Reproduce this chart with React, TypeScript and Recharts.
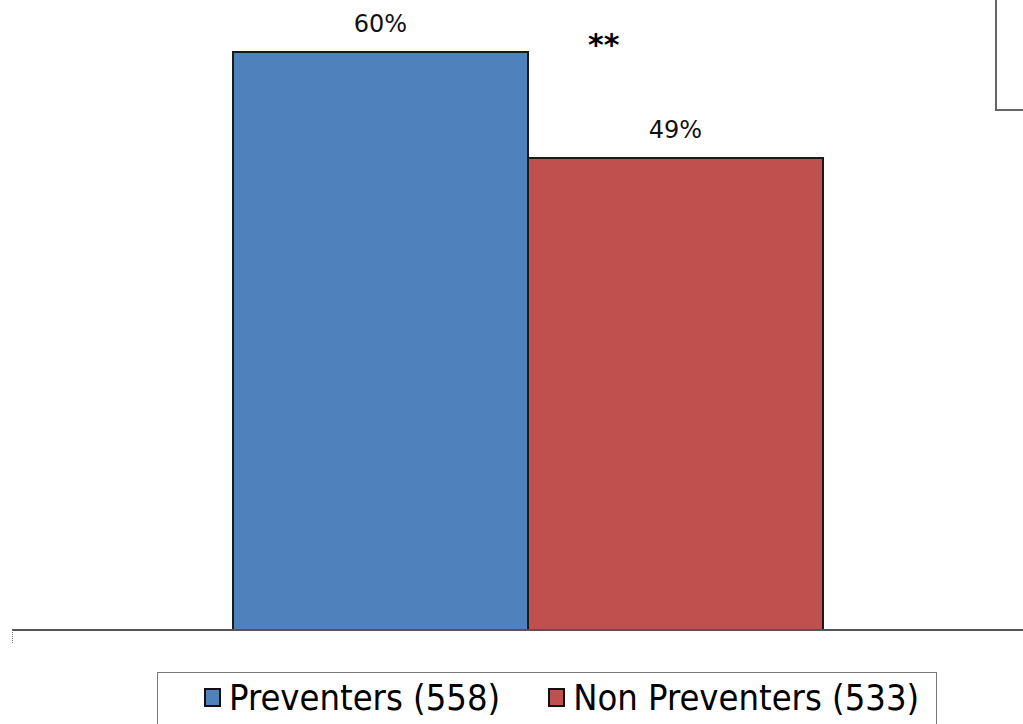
import React from "react";
import { BarChart, Bar, XAxis, YAxis, LabelList } from "recharts";

const categories = ["Group"];
const seriesNames = ["Preventers (558)", "Non Preventers (533)"];
const seriesKeys = ["preventers", "nonPreventers"];
const seriesValues = [60, 49];
const seriesColors = ["#4F81BD", "#C0504D"];
const significance = "**";

const data = categories.map((c) => ({
  name: c,
  [seriesKeys[0]]: seriesValues[0],
  [seriesKeys[1]]: seriesValues[1],
}));

const fmt = (v: any) => `${v}%`;

const LegendBox = () => (
  <div
    style={{
      position: "absolute",
      left: 157,
      top: 672,
      width: 780,
      height: 60,
      border: "1px solid #777",
      boxSizing: "border-box",
      background: "#fff",
    }}
  >
    <div
      style={{
        position: "absolute",
        left: 46,
        top: 4,
        display: "flex",
        alignItems: "center",
        whiteSpace: "nowrap",
        fontFamily: "'DejaVu Sans Condensed', 'DejaVu Sans', sans-serif",
        fontSize: 36,
        color: "#000",
      }}
    >
      {seriesNames.map((n, i) => (
        <span key={n} style={{ display: "inline-flex", alignItems: "center", marginRight: i === 0 ? 48 : 0 }}>
          <span
            style={{
              display: "inline-block",
              width: 17,
              height: 19,
              background: seriesColors[i],
              border: "2px solid #111",
              boxSizing: "border-box",
              marginRight: 8,
            }}
          />
          {n}
        </span>
      ))}
    </div>
  </div>
);

export default function App() {
  return (
    <div
      style={{
        position: "absolute",
        left: 0,
        top: 0,
        width: 1023,
        height: 724,
        overflow: "hidden",
        background: "#fff",
      }}
    >
      <BarChart
        width={1043}
        height={724}
        data={data}
        margin={{ top: 0, right: 0, bottom: 64, left: 12 }}
        barGap={0}
        barCategoryGap={221}
      >
        <XAxis
          dataKey="name"
          axisLine={{ stroke: "#555", strokeWidth: 2 }}
          tick={false}
          tickLine={false}
          height={30}
        />
        <YAxis hide domain={[0, 65.4]} width={0} />
        {seriesKeys.map((k, i) => (
          <Bar
            key={k}
            dataKey={k}
            name={seriesNames[i]}
            fill={seriesColors[i]}
            stroke="#1a1a1a"
            strokeWidth={2}
            isAnimationActive={false}
          >
            <LabelList
              dataKey={k}
              position="top"
              offset={20}
              formatter={fmt}
              style={{ fontFamily: "'DejaVu Sans', sans-serif", fontSize: 24, fill: "#111" }}
            />
          </Bar>
        ))}
      </BarChart>
      <div
        style={{
          position: "absolute",
          left: 588,
          top: 30,
          fontFamily: "'DejaVu Sans', sans-serif",
          fontWeight: "bold",
          fontSize: 30,
          color: "#000",
          lineHeight: "30px",
        }}
      >
        {significance}
      </div>
      <div
        style={{
          position: "absolute",
          left: 995,
          top: 0,
          width: 40,
          height: 109,
          borderLeft: "2px solid #666",
          borderBottom: "2px solid #666",
        }}
      />
      <div
        style={{
          position: "absolute",
          left: 12,
          top: 630,
          width: 0,
          height: 13,
          borderLeft: "1px dotted #888",
        }}
      />
      <LegendBox />
    </div>
  );
}
